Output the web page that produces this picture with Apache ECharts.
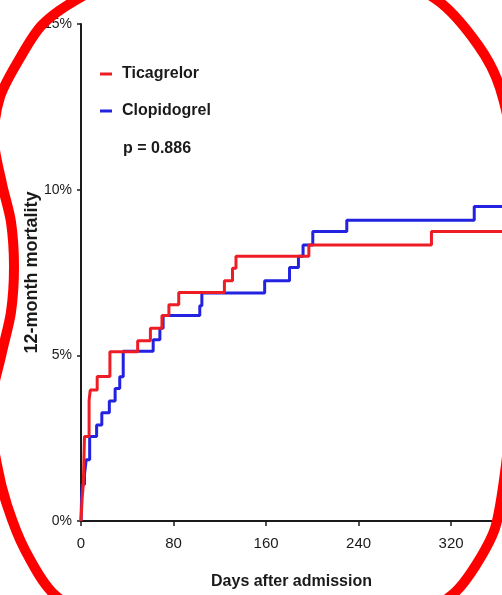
<!DOCTYPE html>
<html><head><meta charset="utf-8">
<script src="https://cdn.jsdelivr.net/npm/echarts@6/dist/echarts.min.js"></script>
<style>html,body{margin:0;padding:0;background:#fff;overflow:hidden}#c{width:502px;height:595px}</style>
</head><body><div id="c"></div>
<script>
// ---- data ----
const xTickValues = [0, 80, 160, 240, 320];
const seriesNames = ['Ticagrelor', 'Clopidogrel'];
const ticagrelorDays      = [0, 1, 2, 3, 7, 8, 14, 25, 49, 60, 70, 76, 84.5, 124, 131, 134, 197, 303, 364];
const ticagrelorMortality = [0, 0.7, 1.1, 2.55, 3.64, 3.95, 4.36, 5.11, 5.44, 5.82, 6.2, 6.53, 6.9, 7.25, 7.63, 7.99, 8.33, 8.74, 8.74];
const clopidogrelDays      = [0, 0.5, 1, 3, 4.5, 7.5, 13.5, 18, 24.5, 29.5, 33.5, 36.5, 62.4, 68.2, 71, 102.7, 104.5, 158.8, 180.3, 188, 192, 200.4, 229.8, 340, 364];
const clopidogrelMortality = [0, 0.7, 1.1, 1.4, 1.85, 2.55, 2.9, 3.27, 3.62, 4.0, 4.35, 5.12, 5.47, 5.82, 6.2, 6.5, 6.88, 7.25, 7.65, 7.99, 8.33, 8.74, 9.08, 9.49, 9.49];
const pValueText = 'p = 0.886';

// ---- chart ----
const FONT = "'Liberation Sans',Arial,sans-serif";
const pairs = (xs, ys) => xs.map((x, i) => [x, ys[i]]);
const chart = echarts.init(document.getElementById('c'), null, {renderer: 'canvas'});

// hand-drawn red ellipse annotation (pixel outline)
const ringPoints = [
  [76,0],[150,-38],[255,-52],[360,-38],[437,0],[478,45],[500,88],[517,170],[524,260],[518,350],
  [509,440],[496,525],[476,565],[452,595],[380,640],[255,660],[130,640],[55,595],[25,550],[7,505],
  [-3,465],[-10,410],[2,352],[11,312],[14,267],[11,222],[2,184],[-6,140],[0,97],[20,58],[42,25]
];

chart.setOption({
  animation: false,
  backgroundColor: '#fff',
  grid: {left: 81, right: 0, top: 24, bottom: 72},
  legend: {
    data: seriesNames,
    orient: 'vertical',
    left: 100, top: 64,
    padding: 0,
    itemGap: 17,
    itemWidth: 12, itemHeight: 3,
    icon: 'rect',
    textStyle: {fontFamily: FONT, fontWeight: 'bold', fontSize: 16, color: '#1a1a1a', lineHeight: 20, padding: [0,0,0,5]}
  },
  xAxis: {
    type: 'value', min: 0, max: 364, interval: 80,
    name: 'Days after admission', nameLocation: 'middle', nameGap: 53, nameMoveOverlap: false,
    nameTextStyle: {fontFamily: FONT, fontWeight: 'bold', fontSize: 16, color: '#1a1a1a'},
    axisLine: {show: true, lineStyle: {color: '#1a1a1a', width: 2}},
    axisTick: {show: true, length: 5, lineStyle: {color: '#1a1a1a', width: 1.5}, customValues: xTickValues},
    axisLabel: {fontFamily: FONT, fontSize: 15, color: '#1a1a1a', margin: 15, customValues: xTickValues},
    splitLine: {show: false}
  },
  yAxis: {
    type: 'value', min: 0, max: 15, interval: 5,
    name: '12-month mortality', nameLocation: 'middle', nameGap: 40, nameRotate: 90, nameMoveOverlap: false,
    nameTextStyle: {fontFamily: FONT, fontWeight: 'bold', fontSize: 18, color: '#1a1a1a'},
    axisLine: {show: true, lineStyle: {color: '#1a1a1a', width: 2}},
    axisTick: {show: true, length: 4, lineStyle: {color: '#1a1a1a', width: 1.5}},
    axisLabel: {fontFamily: FONT, fontSize: 14, color: '#1a1a1a', margin: 9, formatter: '{value}%'},
    splitLine: {show: false}
  },
  series: [
    {
      name: 'Clopidogrel', type: 'line', step: 'end', showSymbol: false, symbol: 'none',
      color: '#2222e0', lineStyle: {color: '#2222e0', width: 3},
      data: pairs(clopidogrelDays, clopidogrelMortality), z: 2
    },
    {
      name: 'Ticagrelor', type: 'line', step: 'end', showSymbol: false, symbol: 'none',
      color: '#ee1c24', lineStyle: {color: '#ee1c24', width: 3},
      data: pairs(ticagrelorDays, ticagrelorMortality), z: 3
    }
  ],
  graphic: [
    {type: 'text', left: 123, top: 141, z: 10,
     style: {text: pValueText, fontFamily: FONT, fontWeight: 'bold', fontSize: 16, fill: '#1a1a1a'}},
    {type: 'polygon', z: 100, silent: true,
     shape: {points: ringPoints, smooth: 0.3},
     style: {fill: 'none', stroke: '#ff0000', lineWidth: 10}}
  ]
});
</script>
</body></html>
